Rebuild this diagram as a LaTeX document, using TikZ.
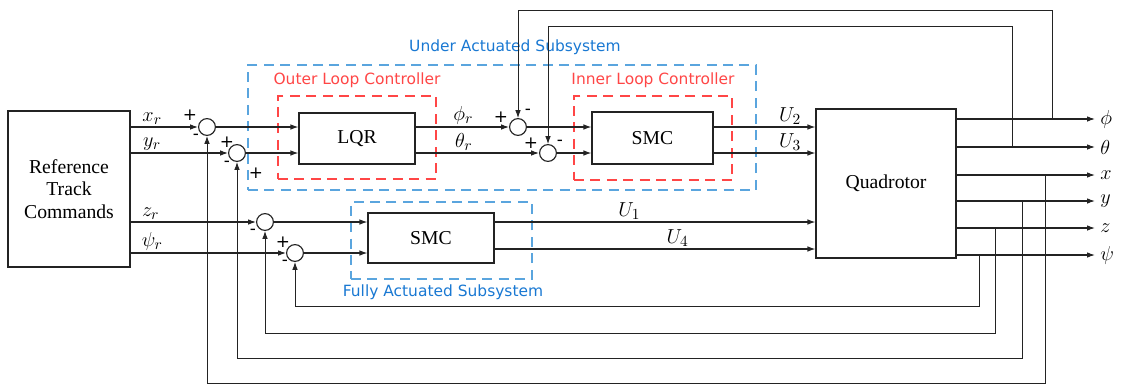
\documentclass[tikz,border=0pt]{standalone}
\usepackage{fontspec}
\setmainfont{Liberation Serif}
\setsansfont{DejaVu Sans}
\usepackage{amsmath}
\usetikzlibrary{
    arrows.meta,
    positioning,
    calc
}
\definecolor{wire}{RGB}{35,35,35}
\definecolor{ctrlred}{RGB}{255,70,70}
\definecolor{subblue}{RGB}{25,120,210}
\definecolor{boxblue}{RGB}{90,165,222}
\tikzset{
    % --- Main block (controller, plant, reference) ---
    block/.style = {
        rectangle, draw=wire, thick, fill=white,
        font=\rmfamily\fontsize{14}{16}\selectfont, align=center
    },
    % --- Summing junction ---
    sum/.style = {
        circle, draw=wire, thick, fill=white,
        minimum size=4.2mm, inner sep=0pt
    },
    % --- Sign beside a junction ---
    sign/.style = {
        font=\sffamily\fontsize{12}{12}\selectfont, inner sep=0pt
    },
    % --- Forward signal ---
    sig/.style = {
        -{Latex[length=2mm,width=1.4mm]}, thick, draw=wire
    },
    % --- Feedback signal ---
    fb/.style = {
        sig, semithick
    },
    % --- Signal name on a wire ---
    siglabel/.style = {
        font=\fontsize{15}{15}\selectfont, inner sep=1.5pt
    },
    % --- Dashed controller border ---
    loop border/.style = {
        rectangle, draw=ctrlred, thick, dash pattern=on 2.5mm off 1.6mm
    },
    % --- Dashed subsystem border ---
    sub border/.style = {
        rectangle, draw=boxblue, thick, dash pattern=on 2.5mm off 1.6mm
    },
    % --- Border captions ---
    loop caption/.style = {
        font=\sffamily\fontsize{11}{11}\selectfont, text=ctrlred
    },
    sub caption/.style = {
        font=\sffamily\fontsize{11}{11}\selectfont, text=subblue
    }
}

\begin{document}
\begin{tikzpicture}[x=0.25mm, y=-0.25mm, >=Stealth, thick]
\useasboundingbox (0,0) rectangle (1130,386);

% ---------------------------------------------------------
% Dashed borders and captions
% ---------------------------------------------------------
\node[sub border, minimum width=127mm, minimum height=31.25mm] (UAS) at (502,127.5) {};
\node[loop border, minimum width=39.5mm, minimum height=20.75mm] (OLC) at (357,137.5) {};
\node[loop border, minimum width=39.5mm, minimum height=21mm] (ILC) at (653,138) {};
\node[sub border, minimum width=45.25mm, minimum height=19.25mm] (FAS) at (441.5,240.5) {};

\node[sub caption] (UAScap) at (515,47) {Under Actuated Subsystem};
\node[loop caption] (OLCcap) at (357,80) {Outer Loop Controller};
\node[loop caption] (ILCcap) at (653,80) {Inner Loop Controller};
\node[sub caption] (FAScap) at (443,292) {Fully Actuated Subsystem};

% ---------------------------------------------------------
% Blocks
% ---------------------------------------------------------
\node[block, minimum width=30.5mm, minimum height=39mm] (Ref) at (69,189) {Reference\\Track\\Commands};
\node[block, minimum width=29mm, minimum height=12.75mm] (LQR) at (357,138.5) {LQR};
\node[block, minimum width=30.25mm, minimum height=13mm] (SMCi) at (652.5,138) {SMC};
\node[block, minimum width=31.5mm, minimum height=12.5mm] (SMCf) at (431,238) {SMC};
\node[block, minimum width=35mm, minimum height=37.25mm] (Quad) at (886,183.5) {Quadrotor};

% ---------------------------------------------------------
% Summing junctions and signs
% ---------------------------------------------------------
\node[sum] (S1) at (207,127) {};
\node[sum] (S2) at (237,153) {};
\node[sum] (S3) at (265,222) {};
\node[sum] (S4) at (295,253) {};
\node[sum] (S5) at (518,127) {};
\node[sum] (S6) at (548,153) {};

\node[sign] (S1p) at ($(S1)+(-17,-12)$) {+};
\node[sign] (S1m) at ($(S1)+(-11,10)$) {-};
\node[sign] (S2p) at ($(S2)+(-10,-11)$) {+};
\node[sign] (S2m) at ($(S2)+(-10,11)$) {-};
\node[sign] (S2x) at ($(S2)+(19,20)$) {+};
\node[sign] (S3m) at ($(S3)+(-12,10)$) {-};
\node[sign] (S4p) at ($(S4)+(-12,-11)$) {+};
\node[sign] (S4m) at ($(S4)+(-10,10)$) {-};
\node[sign] (S5p) at ($(S5)+(-17,-10)$) {+};
\node[sign] (S5m) at ($(S5)+(10,-15)$) {-};
\node[sign] (S6p) at ($(S6)+(-17,-10)$) {+};
\node[sign] (S6m) at ($(S6)+(12,-10)$) {-};

% ---------------------------------------------------------
% References -> junctions
% ---------------------------------------------------------
\draw[sig] (Ref.east |- S1) -- (S1.west) node[siglabel, pos=0.32, above] {$x_r$};
\draw[sig] (Ref.east |- S2) -- (S2.west) node[siglabel, pos=0.22, above] {$y_r$};
\draw[sig] (Ref.east |- S3) -- (S3.west) node[siglabel, pos=0.16, above] {$z_r$};
\draw[sig] (Ref.east |- S4) -- (S4.west) node[siglabel, pos=0.14, above] {$\psi_r$};

% ---------------------------------------------------------
% Under actuated path
% ---------------------------------------------------------
\draw[sig] (S1.east) -- (LQR.west |- S1);
\draw[sig] (S2.east) -- (LQR.west |- S2);
\draw[sig] (LQR.east |- S5) -- (S5.west) node[siglabel, pos=0.51, above] {$\phi_r$};
\draw[sig] (LQR.east |- S6) -- (S6.west) node[siglabel, pos=0.39, above] {$\theta_r$};
\draw[sig] (S5.east) -- (SMCi.west |- S5);
\draw[sig] (S6.east) -- (SMCi.west |- S6);
\draw[sig] (SMCi.east |- S5) -- (Quad.west |- S5) node[siglabel, pos=0.75, above] {$U_2$};
\draw[sig] (SMCi.east |- S6) -- (Quad.west |- S6) node[siglabel, pos=0.75, above] {$U_3$};

% ---------------------------------------------------------
% Fully actuated path
% ---------------------------------------------------------
\draw[sig] (S3.east) -- (SMCf.west |- S3);
\draw[sig] (S4.east) -- (SMCf.west |- S4);
\draw[sig] (SMCf.east |- S3) -- (Quad.west |- S3) node[siglabel, pos=0.42, above] {$U_1$};
\draw[sig] ($(SMCf.east)+(0,11)$) coordinate (U4a) -- (Quad.west |- U4a) node[siglabel, pos=0.57, above] {$U_4$};

% ---------------------------------------------------------
% Outputs (far right)
% ---------------------------------------------------------
\coordinate (oPhi) at (1095,119);
\coordinate (oTheta) at (1095,147);
\coordinate (oX) at (1095,175);
\coordinate (oY) at (1095,201);
\coordinate (oZ) at (1095,228);
\coordinate (oPsi) at (1095,255);

\draw[sig] (Quad.east |- oPhi) -- (oPhi) node[siglabel, right=2pt] {$\phi$};
\draw[sig] (Quad.east |- oTheta) -- (oTheta) node[siglabel, right=2pt] {$\theta$};
\draw[sig] (Quad.east |- oX) -- (oX) node[siglabel, right=2pt] {$x$};
\draw[sig] (Quad.east |- oY) -- (oY) node[siglabel, right=2pt] {$y$};
\draw[sig] (Quad.east |- oZ) -- (oZ) node[siglabel, right=2pt] {$z$};
\draw[sig] (Quad.east |- oPsi) -- (oPsi) node[siglabel, right=2pt] {$\psi$};

% ---------------------------------------------------------
% Feedback loops
% ---------------------------------------------------------
\coordinate (tPhi) at (1052,119);
\coordinate (tTheta) at (1012,147);
\coordinate (tX) at (1045,175);
\coordinate (tY) at (1022,201);
\coordinate (tZ) at (995,228);
\coordinate (tPsi) at (979,255);

\draw[fb] (tPhi) -- (tPhi |- 0,10) -| (S5.north);
\draw[fb] (tTheta) -- (tTheta |- 0,26) -| (S6.north);
\draw[fb] (tX) -- (tX |- 0,383) -| (S1.south);
\draw[fb] (tY) -- (tY |- 0,358) -| (S2.south);
\draw[fb] (tZ) -- (tZ |- 0,333) -| (S3.south);
\draw[fb] (tPsi) -- (tPsi |- 0,306) -| (S4.south);

\end{tikzpicture}
\end{document}
